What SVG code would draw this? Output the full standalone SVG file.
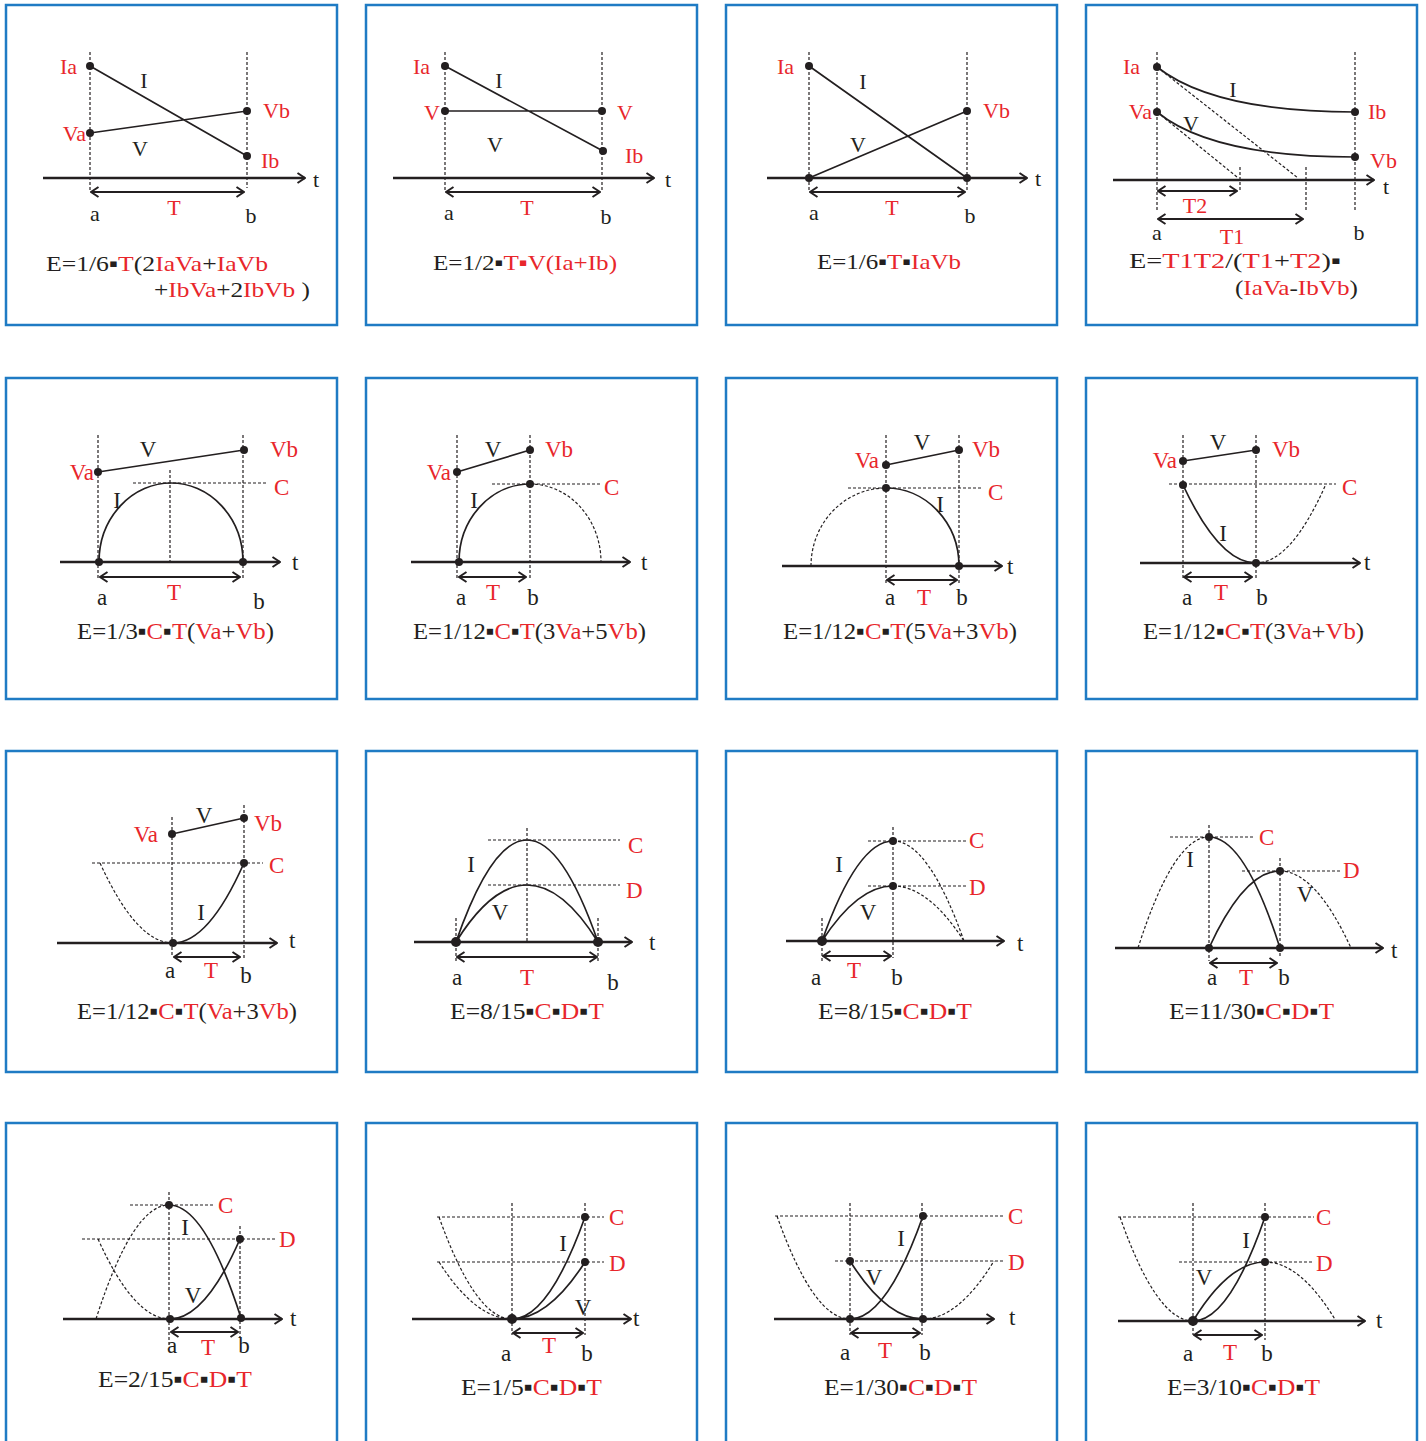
<svg xmlns="http://www.w3.org/2000/svg" width="1426" height="1441" viewBox="0 0 1426 1441">
<defs>
<style>
.bx{fill:#fff;stroke:#1f7bc4;stroke-width:2.5}
.ax{fill:none;stroke:#231f20;stroke-width:2.6;marker-end:url(#ah)}
.ta{fill:none;stroke:#231f20;stroke-width:2.2;marker-start:url(#ah);marker-end:url(#ah)}
.s{fill:none;stroke:#231f20;stroke-width:1.7}
.d{fill:none;stroke:#231f20;stroke-width:1.2;stroke-dasharray:3 2}
.p{fill:#231f20}
text{font-family:"Liberation Serif","Times New Roman",serif;fill:#231f20}
.r{fill:#e8262b}
.f1{font-size:22px}.f2{font-size:24px}
.l1{font-size:22px}.l2{font-size:23px}
.m{text-anchor:middle}.e{text-anchor:end}
</style>
<marker id="ah" viewBox="0 0 10 12" refX="9" refY="6" markerWidth="10" markerHeight="12" markerUnits="userSpaceOnUse" orient="auto-start-reverse"><path d="M1.5,1 L9,6 L1.5,11" fill="none" stroke="#231f20" stroke-width="2"/></marker>
</defs>
<rect width="1426" height="1441" fill="#fff"/>

<g id="panel1">
<rect class="bx" x="6" y="5" width="331" height="320"/>
<path class="d" d="M90,52V190M247,52V188"/>
<path class="ax" d="M43,178H305"/>
<path class="ta" d="M91,192H244"/>
<path class="s" d="M90,66L247,156M90,133L247,111"/>
<circle class="p" cx="90" cy="66" r="4"/><circle class="p" cx="90" cy="133" r="4"/><circle class="p" cx="247" cy="111" r="4"/><circle class="p" cx="247" cy="156" r="4"/>
<g class="l1">
<text class="r e" x="77" y="74">Ia</text><text class="r e" x="86" y="141">Va</text>
<text class="r" x="263" y="118">Vb</text><text class="r" x="261" y="168">Ib</text>
<text class="m" x="144" y="88">I</text><text class="m" x="140" y="156">V</text>
<text x="313" y="187">t</text><text class="m" x="95" y="221">a</text><text class="r m" x="174" y="215">T</text><text class="m" x="251" y="223">b</text>
</g>
<text class="f1" x="46" y="271" textLength="222" lengthAdjust="spacingAndGlyphs">E=1/6▪<tspan class="r">T</tspan>(2<tspan class="r">IaVa</tspan>+<tspan class="r">IaVb</tspan></text>
<text class="f1" x="154" y="297" textLength="156" lengthAdjust="spacingAndGlyphs">+<tspan class="r">IbVa</tspan>+2<tspan class="r">IbVb</tspan> )</text>
</g>

<g id="panel2">
<rect class="bx" x="366" y="5" width="331" height="320"/>
<path class="d" d="M445,52V190M602,52V190"/>
<path class="ax" d="M393,178H654"/>
<path class="ta" d="M446,192H600"/>
<path class="s" d="M445,66L603,151M445,111H602"/>
<circle class="p" cx="445" cy="66" r="4"/><circle class="p" cx="445" cy="111" r="4"/><circle class="p" cx="602" cy="111" r="4"/><circle class="p" cx="603" cy="151" r="4"/>
<g class="l1">
<text class="r e" x="430" y="74">Ia</text><text class="r m" x="432" y="120">V</text>
<text class="r m" x="625" y="120">V</text><text class="r" x="625" y="163">Ib</text>
<text class="m" x="499" y="88">I</text><text class="m" x="495" y="152">V</text>
<text x="665" y="187">t</text><text class="m" x="449" y="220">a</text><text class="r m" x="527" y="215">T</text><text class="m" x="606" y="224">b</text>
</g>
<text class="f1" x="433" y="270" textLength="184" lengthAdjust="spacingAndGlyphs">E=1/2▪<tspan class="r">T▪V(Ia+Ib)</tspan></text>
</g>

<g id="panel3">
<rect class="bx" x="726" y="5" width="331" height="320"/>
<path class="d" d="M809,52V190M967,52V190"/>
<path class="ax" d="M767,178H1027"/>
<path class="ta" d="M810,192H965"/>
<path class="s" d="M809,66L967,178M809,178L967,111"/>
<circle class="p" cx="809" cy="66" r="4"/><circle class="p" cx="809" cy="178" r="4"/><circle class="p" cx="967" cy="178" r="4"/><circle class="p" cx="967" cy="111" r="4"/>
<g class="l1">
<text class="r e" x="794" y="74">Ia</text><text class="r" x="983" y="118">Vb</text>
<text class="m" x="863" y="89">I</text><text class="m" x="858" y="152">V</text>
<text x="1035" y="186">t</text><text class="m" x="814" y="220">a</text><text class="r m" x="892" y="215">T</text><text class="m" x="970" y="223">b</text>
</g>
<text class="f1" x="817" y="269" textLength="144" lengthAdjust="spacingAndGlyphs">E=1/6▪<tspan class="r">T</tspan>▪<tspan class="r">IaVb</tspan></text>
</g>

<g id="panel4">
<rect class="bx" x="1086" y="5" width="331" height="320"/>
<path class="d" d="M1157,52V210M1355,52V210M1240,167V192M1306,167V210M1157,67L1298,178M1157,112L1237,177"/>
<path class="ax" d="M1113,180H1374"/>
<path class="ta" d="M1158,191H1237"/>
<path class="ta" d="M1158,219H1303"/>
<path class="s" d="M1157,67C1190,93 1250,112 1355,112M1157,112C1190,139 1250,157 1355,157"/>
<circle class="p" cx="1157" cy="67" r="4"/><circle class="p" cx="1157" cy="112" r="4"/><circle class="p" cx="1355" cy="112" r="4"/><circle class="p" cx="1355" cy="157" r="4"/>
<g class="l1">
<text class="r e" x="1140" y="74">Ia</text><text class="r e" x="1152" y="119">Va</text>
<text class="r" x="1368" y="119">Ib</text><text class="r" x="1370" y="168">Vb</text>
<text class="m" x="1233" y="97">I</text><text class="m" x="1191" y="131">V</text>
<text x="1383" y="194">t</text>
<text class="r m" x="1195" y="213">T2</text><text class="r m" x="1232" y="244">T1</text>
<text class="m" x="1157" y="240">a</text><text class="m" x="1359" y="240">b</text>
</g>
<text class="f1" x="1129" y="268" textLength="212" lengthAdjust="spacingAndGlyphs">E=<tspan class="r">T1T2</tspan>/(<tspan class="r">T1</tspan>+<tspan class="r">T2</tspan>)▪</text>
<text class="f1" x="1235" y="295" textLength="123" lengthAdjust="spacingAndGlyphs">(<tspan class="r">IaVa</tspan>-<tspan class="r">IbVb</tspan>)</text>
</g>

<g id="panel5">
<rect class="bx" x="6" y="378" width="331" height="321"/>
<path class="d" d="M98,435V578M243,435V578M170,470V562M133,483H266"/>
<path class="ax" d="M60,562H280"/>
<path class="ta" d="M100,577H240"/>
<path class="s" d="M98,472L244,450M99,562A72,79 0 0 1 243,562"/>
<circle class="p" cx="98" cy="472" r="4"/><circle class="p" cx="244" cy="450" r="4"/><circle class="p" cx="99" cy="562" r="4"/><circle class="p" cx="243" cy="562" r="4"/>
<g class="l2">
<text class="r e" x="94" y="480">Va</text><text class="m" x="148" y="457">V</text><text class="r" x="270" y="457">Vb</text>
<text class="r" x="274" y="495">C</text><text class="m" x="117" y="508">I</text><text x="292" y="570">t</text>
<text class="m" x="102" y="605">a</text><text class="r m" x="174" y="600">T</text><text class="m" x="259" y="609">b</text>
</g>
<text class="f2" x="77" y="639" textLength="197" lengthAdjust="spacingAndGlyphs">E=1/3▪<tspan class="r">C</tspan>▪<tspan class="r">T</tspan>(<tspan class="r">Va</tspan>+<tspan class="r">Vb</tspan>)</text>
</g>

<g id="panel6">
<rect class="bx" x="366" y="378" width="331" height="321"/>
<path class="d" d="M457,435V580M530,435V580M492,484H602M530,484A71,78 0 0 1 601,562"/>
<path class="ax" d="M411,562H630"/>
<path class="ta" d="M459,577H526"/>
<path class="s" d="M457,472L530,450M459,562A71,78 0 0 1 530,484"/>
<circle class="p" cx="457" cy="472" r="4"/><circle class="p" cx="530" cy="450" r="4"/><circle class="p" cx="530" cy="484" r="4"/><circle class="p" cx="459" cy="562" r="4"/>
<g class="l2">
<text class="r e" x="451" y="480">Va</text><text class="m" x="493" y="457">V</text><text class="r" x="545" y="457">Vb</text>
<text class="r" x="604" y="495">C</text><text class="m" x="474" y="508">I</text><text x="641" y="570">t</text>
<text class="m" x="461" y="605">a</text><text class="r m" x="493" y="600">T</text><text class="m" x="533" y="605">b</text>
</g>
<text class="f2" x="413" y="639" textLength="233" lengthAdjust="spacingAndGlyphs">E=1/12▪<tspan class="r">C</tspan>▪<tspan class="r">T</tspan>(3<tspan class="r">Va</tspan>+5<tspan class="r">Vb</tspan>)</text>
</g>

<g id="panel7">
<rect class="bx" x="726" y="378" width="331" height="321"/>
<path class="d" d="M886,435V583M959,435V583M848,488H983M811,566A75,78 0 0 1 886,488"/>
<path class="ax" d="M782,566H1002"/>
<path class="ta" d="M887,580H957"/>
<path class="s" d="M886,465L959,450M886,488A73,78 0 0 1 959,566"/>
<circle class="p" cx="886" cy="465" r="4"/><circle class="p" cx="959" cy="450" r="4"/><circle class="p" cx="886" cy="488" r="4"/><circle class="p" cx="959" cy="566" r="4"/>
<g class="l2">
<text class="r e" x="879" y="468">Va</text><text class="m" x="922" y="450">V</text><text class="r" x="972" y="457">Vb</text>
<text class="r" x="988" y="500">C</text><text class="m" x="940" y="512">I</text><text x="1007" y="574">t</text>
<text class="m" x="890" y="605">a</text><text class="r m" x="924" y="605">T</text><text class="m" x="962" y="605">b</text>
</g>
<text class="f2" x="783" y="639" textLength="234" lengthAdjust="spacingAndGlyphs">E=1/12▪<tspan class="r">C</tspan>▪<tspan class="r">T</tspan>(5<tspan class="r">Va</tspan>+3<tspan class="r">Vb</tspan>)</text>
</g>

<g id="panel8">
<rect class="bx" x="1086" y="378" width="331" height="321"/>
<path class="d" d="M1183,435V580M1256,435V580M1169,484H1336M1256,563Q1291,563 1326,484"/>
<path class="ax" d="M1140,563H1360"/>
<path class="ta" d="M1184,577H1252"/>
<path class="s" d="M1183,461L1256,450M1183,485Q1219.5,563 1256,563"/>
<circle class="p" cx="1183" cy="461" r="4"/><circle class="p" cx="1256" cy="450" r="4"/><circle class="p" cx="1183" cy="485" r="4"/><circle class="p" cx="1256" cy="563" r="4"/>
<g class="l2">
<text class="r e" x="1177" y="468">Va</text><text class="m" x="1218" y="450">V</text><text class="r" x="1272" y="457">Vb</text>
<text class="r" x="1342" y="495">C</text><text class="m" x="1223" y="541">I</text><text x="1364" y="570">t</text>
<text class="m" x="1187" y="605">a</text><text class="r m" x="1221" y="600">T</text><text class="m" x="1262" y="605">b</text>
</g>
<text class="f2" x="1143" y="639" textLength="221" lengthAdjust="spacingAndGlyphs">E=1/12▪<tspan class="r">C</tspan>▪<tspan class="r">T</tspan>(3<tspan class="r">Va</tspan>+<tspan class="r">Vb</tspan>)</text>
</g>

<g id="panel9">
<rect class="bx" x="6" y="751" width="331" height="321"/>
<path class="d" d="M172,817V957M244,805V958M92,863H263M100,863Q136.5,943 173,943"/>
<path class="ax" d="M57,943H277"/>
<path class="ta" d="M174,957H240"/>
<path class="s" d="M172,834L244,818M173,943Q208.5,943 244,863"/>
<circle class="p" cx="172" cy="834" r="4"/><circle class="p" cx="244" cy="818" r="4"/><circle class="p" cx="244" cy="863" r="4"/><circle class="p" cx="173" cy="943" r="4"/>
<g class="l2">
<text class="r e" x="158" y="842">Va</text><text class="m" x="204" y="823">V</text><text class="r" x="254" y="831">Vb</text>
<text class="r" x="269" y="873">C</text><text class="m" x="201" y="920">I</text><text x="289" y="948">t</text>
<text class="m" x="170" y="978">a</text><text class="r m" x="211" y="978">T</text><text class="m" x="246" y="983">b</text>
</g>
<text class="f2" x="77" y="1019" textLength="220" lengthAdjust="spacingAndGlyphs">E=1/12▪<tspan class="r">C</tspan>▪<tspan class="r">T</tspan>(<tspan class="r">Va</tspan>+3<tspan class="r">Vb</tspan>)</text>
</g>

<g id="panel10">
<rect class="bx" x="366" y="751" width="331" height="321"/>
<path class="d" d="M527,828V942M488,840H620M488,885H620M456,918V962M598,918V962"/>
<path class="ax" d="M414,942H632"/>
<path class="ta" d="M457,957H597"/>
<path class="s" d="M456,942Q527,738 598,942M456,942Q527,828 598,942"/>
<circle class="p" cx="456" cy="942" r="5"/><circle class="p" cx="598" cy="942" r="5"/>
<g class="l2">
<text class="m" x="471" y="872">I</text><text class="m" x="500" y="920">V</text>
<text class="r" x="628" y="853">C</text><text class="r" x="626" y="898">D</text><text x="649" y="950">t</text>
<text class="m" x="457" y="985">a</text><text class="r m" x="527" y="985">T</text><text class="m" x="613" y="990">b</text>
</g>
<text class="f2" x="450" y="1019" textLength="154" lengthAdjust="spacingAndGlyphs">E=8/15▪<tspan class="r">C</tspan>▪<tspan class="r">D</tspan>▪<tspan class="r">T</tspan></text>
</g>

<g id="panel11">
<rect class="bx" x="726" y="751" width="331" height="321"/>
<path class="d" d="M893,827V958M822,918V962M868,841H966M868,886H966M893,841Q928.5,841 964,941M893,886Q928.5,886 964,941"/>
<path class="ax" d="M786,941H1004"/>
<path class="ta" d="M823,956H891"/>
<path class="s" d="M822,941Q857.5,841 893,841M822,941Q857.5,886 893,886"/>
<circle class="p" cx="822" cy="941" r="5"/><circle class="p" cx="893" cy="841" r="4"/><circle class="p" cx="893" cy="886" r="4"/>
<g class="l2">
<text class="m" x="839" y="872">I</text><text class="m" x="868" y="920">V</text>
<text class="r" x="969" y="848">C</text><text class="r" x="969" y="895">D</text><text x="1017" y="951">t</text>
<text class="m" x="816" y="985">a</text><text class="r m" x="854" y="978">T</text><text class="m" x="897" y="985">b</text>
</g>
<text class="f2" x="818" y="1019" textLength="154" lengthAdjust="spacingAndGlyphs">E=8/15▪<tspan class="r">C</tspan>▪<tspan class="r">D</tspan>▪<tspan class="r">T</tspan></text>
</g>

<g id="panel12">
<rect class="bx" x="1086" y="751" width="331" height="321"/>
<path class="d" d="M1209,825V961M1280,858V958M1170,837H1253M1242,871H1341M1138,948Q1173.5,837 1209,837M1280,871Q1315.5,871 1351,948"/>
<path class="ax" d="M1115,948H1383"/>
<path class="ta" d="M1210,963H1277"/>
<path class="s" d="M1209,837Q1244.5,837 1280,948M1209,948Q1244.5,871 1280,871"/>
<circle class="p" cx="1209" cy="837" r="4"/><circle class="p" cx="1280" cy="871" r="4"/><circle class="p" cx="1209" cy="948" r="4"/><circle class="p" cx="1280" cy="948" r="4"/>
<g class="l2">
<text class="r" x="1259" y="845">C</text><text class="r" x="1343" y="878">D</text>
<text class="m" x="1190" y="867">I</text><text class="m" x="1305" y="902">V</text><text x="1391" y="958">t</text>
<text class="m" x="1212" y="985">a</text><text class="r m" x="1246" y="985">T</text><text class="m" x="1284" y="985">b</text>
</g>
<text class="f2" x="1169" y="1019" textLength="165" lengthAdjust="spacingAndGlyphs">E=11/30▪<tspan class="r">C</tspan>▪<tspan class="r">D</tspan>▪<tspan class="r">T</tspan></text>
</g>

<g id="panel13">
<rect class="bx" x="6" y="1123" width="331" height="330"/>
<path class="d" d="M169,1192V1345M240,1226V1338M130,1205H213M82,1239H275M96,1319Q132.5,1205 169,1205M98,1239Q134,1319 170,1319"/>
<path class="ax" d="M63,1319H282"/>
<path class="ta" d="M171,1332H238"/>
<path class="s" d="M169,1205Q205,1205 241,1318M170,1319Q205,1319 240,1239"/>
<circle class="p" cx="169" cy="1205" r="4"/><circle class="p" cx="240" cy="1239" r="4"/><circle class="p" cx="170" cy="1319" r="4"/><circle class="p" cx="241" cy="1318" r="4"/>
<g class="l2">
<text class="r" x="218" y="1213">C</text><text class="r" x="279" y="1247">D</text>
<text class="m" x="185" y="1235">I</text><text class="m" x="193" y="1303">V</text><text x="290" y="1326">t</text>
<text class="m" x="172" y="1353">a</text><text class="r m" x="208" y="1355">T</text><text class="m" x="244" y="1353">b</text>
</g>
<text class="f2" x="98" y="1387" textLength="154" lengthAdjust="spacingAndGlyphs">E=2/15▪<tspan class="r">C</tspan>▪<tspan class="r">D</tspan>▪<tspan class="r">T</tspan></text>
</g>

<g id="panel14">
<rect class="bx" x="366" y="1123" width="331" height="330"/>
<path class="d" d="M512,1203V1335M585,1203V1335M437,1217H604M437,1262H604M439,1217Q475.5,1319 512,1319M439,1262Q475.5,1319 512,1319"/>
<path class="ax" d="M412,1319H631"/>
<path class="ta" d="M513,1333H583"/>
<path class="s" d="M512,1319Q548.5,1319 585,1217M512,1319Q548.5,1319 585,1262"/>
<circle class="p" cx="512" cy="1319" r="5"/><circle class="p" cx="585" cy="1217" r="4"/><circle class="p" cx="585" cy="1262" r="4"/>
<g class="l2">
<text class="r" x="609" y="1225">C</text><text class="r" x="609" y="1271">D</text>
<text class="m" x="563" y="1251">I</text><text class="m" x="583" y="1315">V</text><text x="633" y="1326">t</text>
<text class="m" x="506" y="1361">a</text><text class="r m" x="549" y="1353">T</text><text class="m" x="587" y="1361">b</text>
</g>
<text class="f2" x="461" y="1395" textLength="141" lengthAdjust="spacingAndGlyphs">E=1/5▪<tspan class="r">C</tspan>▪<tspan class="r">D</tspan>▪<tspan class="r">T</tspan></text>
</g>

<g id="panel15">
<rect class="bx" x="726" y="1123" width="331" height="330"/>
<path class="d" d="M850,1203V1335M922,1203V1335M775,1216H1005M835,1261H1003M777,1216Q813.5,1319 850,1319M923,1319Q958.5,1319 994,1261"/>
<path class="ax" d="M774,1319H994"/>
<path class="ta" d="M851,1333H920"/>
<path class="s" d="M850,1319Q886.5,1319 923,1216M850,1261Q886.5,1319 923,1319"/>
<circle class="p" cx="850" cy="1261" r="4"/><circle class="p" cx="923" cy="1216" r="4"/><circle class="p" cx="850" cy="1319" r="4"/><circle class="p" cx="923" cy="1319" r="4"/>
<g class="l2">
<text class="r" x="1008" y="1224">C</text><text class="r" x="1008" y="1270">D</text>
<text class="m" x="901" y="1246">I</text><text class="m" x="874" y="1285">V</text><text x="1009" y="1325">t</text>
<text class="m" x="845" y="1360">a</text><text class="r m" x="885" y="1358">T</text><text class="m" x="925" y="1360">b</text>
</g>
<text class="f2" x="824" y="1395" textLength="153" lengthAdjust="spacingAndGlyphs">E=1/30▪<tspan class="r">C</tspan>▪<tspan class="r">D</tspan>▪<tspan class="r">T</tspan></text>
</g>

<g id="panel16">
<rect class="bx" x="1086" y="1123" width="331" height="330"/>
<path class="d" d="M1193,1203V1335M1265,1203V1340M1118,1217H1314M1179,1262H1314M1120,1217Q1156.5,1321 1193,1321M1265,1262Q1300.5,1262 1336,1321"/>
<path class="ax" d="M1118,1321H1365"/>
<path class="ta" d="M1194,1335H1262"/>
<path class="s" d="M1193,1321Q1229,1321 1265,1217M1193,1321Q1229,1262 1265,1262"/>
<circle class="p" cx="1193" cy="1321" r="5"/><circle class="p" cx="1265" cy="1217" r="4"/><circle class="p" cx="1265" cy="1262" r="4"/>
<g class="l2">
<text class="r" x="1316" y="1225">C</text><text class="r" x="1316" y="1271">D</text>
<text class="m" x="1246" y="1248">I</text><text class="m" x="1204" y="1285">V</text><text x="1376" y="1328">t</text>
<text class="m" x="1188" y="1361">a</text><text class="r m" x="1230" y="1360">T</text><text class="m" x="1267" y="1361">b</text>
</g>
<text class="f2" x="1167" y="1395" textLength="153" lengthAdjust="spacingAndGlyphs">E=3/10▪<tspan class="r">C</tspan>▪<tspan class="r">D</tspan>▪<tspan class="r">T</tspan></text>
</g>
</svg>
